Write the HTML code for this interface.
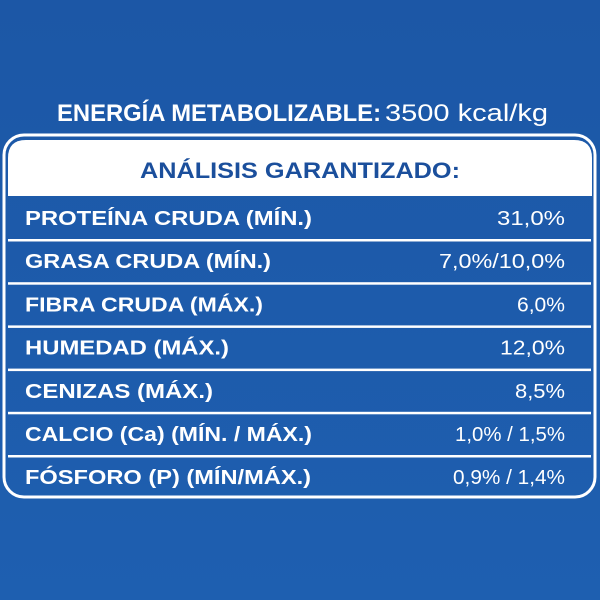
<!DOCTYPE html>
<html><head><meta charset="utf-8"><style>
html,body{margin:0;padding:0;width:600px;height:600px;overflow:hidden;background:#1d5bab}
svg{display:block}
text{font-family:"Liberation Sans",sans-serif}
</style></head><body>
<svg width="600" height="600" viewBox="0 0 600 600">
<defs><linearGradient id="bg" x1="0" y1="0" x2="0" y2="1"><stop offset="0" stop-color="#1c57a6"/><stop offset="1" stop-color="#1e5fb0"/></linearGradient></defs>
<rect width="600" height="600" fill="url(#bg)"/>
<text x="57" y="121" font-size="24" font-weight="bold" fill="#fff" textLength="324" lengthAdjust="spacingAndGlyphs">ENERGÍA METABOLIZABLE:</text>
<text x="385" y="121" font-size="24" fill="#fff" textLength="163" lengthAdjust="spacingAndGlyphs">3500 kcal/kg</text>
<rect x="4" y="135" width="591" height="362" rx="20" fill="none" stroke="#fff" stroke-width="3"/>
<path d="M8 196 V158 Q8 140 26 140 H574 Q592 140 592 158 V196 Z" fill="#fff"/>
<text x="140" y="178" font-size="22" font-weight="bold" fill="#1b4f9c" textLength="320" lengthAdjust="spacingAndGlyphs">ANÁLISIS GARANTIZADO:</text>
<g id="rows"></g>
</svg>
<script>
const labels=["PROTEÍNA CRUDA (MÍN.)","GRASA CRUDA (MÍN.)","FIBRA CRUDA (MÁX.)","HUMEDAD (MÁX.)","CENIZAS (MÁX.)","CALCIO (Ca) (MÍN. / MÁX.)","FÓSFORO (P) (MÍN/MÁX.)"];
const values=["31,0%","7,0%/10,0%","6,0%","12,0%","8,5%","1,0% / 1,5%","0,9% / 1,4%"];
const labelW=[287,246,238,204,188,287,286];
const valueW=[68,126,48,65,50,110,112];
const g=document.getElementById('rows');
const NS="http://www.w3.org/2000/svg";
labels.forEach((l,i)=>{
  const cy=218+i*43.2;
  const t=document.createElementNS(NS,'text');
  
  
  t.setAttribute('x',25);t.setAttribute('y',cy+7);
  t.setAttribute('font-size','20');t.setAttribute('font-weight','bold');t.setAttribute('fill','#fff');
  t.setAttribute('textLength',labelW[i]);t.setAttribute('lengthAdjust','spacingAndGlyphs');
  t.textContent=l;g.appendChild(t);
  const v=document.createElementNS(NS,'text');
  
  
  v.setAttribute('x',565-valueW[i]);v.setAttribute('y',cy+7);
  v.setAttribute('font-size','20');v.setAttribute('fill','#fff');
  v.setAttribute('textLength',valueW[i]);v.setAttribute('lengthAdjust','spacingAndGlyphs');
  v.textContent=values[i];g.appendChild(v);
  if(i<labels.length-1){
    const r=document.createElementNS(NS,'rect');
    
    
    r.setAttribute('x',8);r.setAttribute('y',cy+21);r.setAttribute('width',583);r.setAttribute('height',2.5);r.setAttribute('fill','#fff');
    g.appendChild(r);
  }
});
</script>
</body></html>
